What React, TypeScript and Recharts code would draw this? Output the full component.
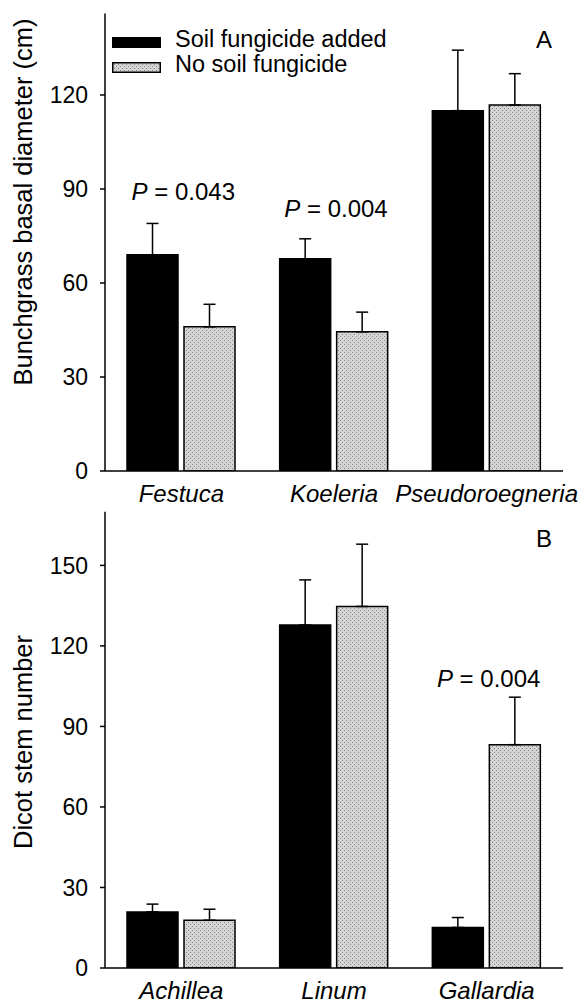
import React from "react";
import { BarChart, Bar, XAxis, YAxis, ErrorBar, Legend, ReferenceDot } from "recharts";

// Panel A – bunchgrasses
const grassNames = ["Festuca", "Koeleria", "Pseudoroegneria"];
const grassFung = [69, 67.7, 115];
const grassFungErr = [10, 6.4, 19.3];
const grassNoFung = [46, 44.4, 116.8];
const grassNoFungErr = [7.2, 6.3, 10];
const grassP = ["0.043", "0.004", null];
const grassPAt = [86.6, 81.2, null];
const grassTicks = [0, 30, 60, 90, 120];

// Panel B – dicots
const dicotNames = ["Achillea", "Linum", "Gallardia"];
const dicotFung = [20.9, 127.8, 15.1];
const dicotFungErr = [2.9, 16.8, 3.7];
const dicotNoFung = [17.8, 134.7, 83.2];
const dicotNoFungErr = [4.1, 23.2, 17.7];
const dicotP = [null, null, "0.004"];
const dicotPAt = [null, null, 104.6];
const dicotTicks = [0, 30, 60, 90, 120, 150];

const seriesOrder = ["fung", "noFung"];

const FONT = "'Liberation Sans', Arial, Helvetica, sans-serif";

interface Row {
  name: string;
  fung: number;
  fungErr: number;
  noFung: number;
  noFungErr: number;
  p: string | null;
  pAt: number | null;
}

const buildRows = (
  names: string[],
  fung: number[],
  fungErr: number[],
  noFung: number[],
  noFungErr: number[],
  p: (string | null)[],
  pAt: (number | null)[]
): Row[] =>
  names.map((name, i) => ({
    name,
    fung: fung[i],
    fungErr: fungErr[i],
    noFung: noFung[i],
    noFungErr: noFungErr[i],
    p: p[i],
    pAt: pAt[i],
  }));

const grassRows = buildRows(grassNames, grassFung, grassFungErr, grassNoFung, grassNoFungErr, grassP, grassPAt);
const dicotRows = buildRows(dicotNames, dicotFung, dicotFungErr, dicotNoFung, dicotNoFungErr, dicotP, dicotPAt);

const AxisTitle = ({ text, cy }: { text: string; cy: number }) => (
  <text
    x={32}
    y={cy}
    transform={`rotate(-90 32 ${cy})`}
    textAnchor="middle"
    fontSize={25.5}
    fill="#000"
    fontFamily={FONT}
  >
    {text}
  </text>
);

const LegendBox = (props: any) => {
  const payload = [...(props.payload || [])].sort(
    (a: any, b: any) => seriesOrder.indexOf(a.dataKey) - seriesOrder.indexOf(b.dataKey)
  );
  return (
    <div style={{ position: "relative", width: 300, height: 50, fontFamily: FONT, fontSize: 23.5, color: "#000" }}>
      {payload.map((e: any, i: number) => (
        <div
          key={e.value}
          style={{ position: "absolute", left: 0, top: i * 24.5, height: 25, display: "flex", alignItems: "center" }}
        >
          <svg width={49} height={11} style={{ display: "block" }}>
            <rect x={0.75} y={0.75} width={47.5} height={9.5} fill={e.color} stroke="#000" strokeWidth={1.5} />
          </svg>
          <span style={{ marginLeft: 14, lineHeight: "25px", position: "relative", top: -3, whiteSpace: "nowrap" }}>
            {e.value}
          </span>
        </div>
      ))}
    </div>
  );
};

const PText = (props: any) => {
  const { cx, cy, text } = props;
  return (
    <text x={cx + 2} y={cy} textAnchor="middle" fontSize={24} fill="#000" fontFamily={FONT}>
      <tspan fontStyle="italic">P</tspan>
      {" = " + text}
    </text>
  );
};

interface PanelProps {
  rows: Row[];
  ticks: number[];
  yMax: number;
  yLabel: string;
  yLabelCy: number;
  letter: string;
  letterY: number;
  height: number;
  marginTop: number;
  xAxisHeight: number;
  patternId: string;
  showLegend: boolean;
}

const Panel = ({
  rows,
  ticks,
  yMax,
  yLabel,
  yLabelCy,
  letter,
  letterY,
  height,
  marginTop,
  xAxisHeight,
  patternId,
  showLegend,
}: PanelProps) => (
  <BarChart
    width={588}
    height={height}
    data={rows}
    margin={{ top: marginTop, right: 25, left: 0, bottom: 0 }}
    barSize={51}
    barGap={6}
    style={{ fontFamily: FONT }}
  >
    <defs>
      <pattern id={patternId} width={4} height={4} patternUnits="userSpaceOnUse">
        <rect width={4} height={4} fill="#d4d4d4" />
        <rect x={0} y={0} width={1} height={1} fill="#888" />
        <rect x={2} y={2} width={1} height={1} fill="#888" />
      </pattern>
    </defs>
    <XAxis
      dataKey="name"
      height={xAxisHeight}
      tickLine={false}
      tickSize={0}
      tickMargin={14}
      axisLine={{ stroke: "#000", strokeWidth: 1.5 }}
      tick={{ fill: "#000", fontSize: 24, fontStyle: "italic", fontFamily: FONT }}
      interval={0}
    />
    <XAxis xAxisId="top" dataKey="name" orientation="top" height={0} tick={false} tickLine={false} axisLine={{ stroke: "#000", strokeWidth: 1.5 }} />
    <YAxis
      width={105}
      domain={[0, yMax]}
      ticks={ticks}
      tickSize={5}
      tickMargin={12}
      tickLine={{ stroke: "#000", strokeWidth: 1.5 }}
      axisLine={{ stroke: "#000", strokeWidth: 1.5 }}
      tick={{ fill: "#000", fontSize: 23, fontFamily: FONT }}
      allowDataOverflow
      label={<AxisTitle text={yLabel} cy={yLabelCy} />}
    />
    <YAxis yAxisId="right" orientation="right" width={0} domain={[0, yMax]} tick={false} tickLine={false} axisLine={{ stroke: "#000", strokeWidth: 1.5 }} />
    {showLegend && (
      <Legend
        layout="horizontal"
        verticalAlign="middle"
        align="center"
        content={<LegendBox />}
        wrapperStyle={{ left: 112, top: 30, width: 300, height: 50 }}
      />
    )}
    <Bar dataKey="fung" name="Soil fungicide added" fill="#000" stroke="#000" strokeWidth={1.5} isAnimationActive={false}>
      <ErrorBar dataKey={(d: Row) => [0, d.fungErr]} direction="y" width={6} stroke="#000" strokeWidth={1.5} />
    </Bar>
    <Bar dataKey="noFung" name="No soil fungicide" fill={`url(#${patternId})`} stroke="#000" strokeWidth={1.5} isAnimationActive={false}>
      <ErrorBar dataKey={(d: Row) => [0, d.noFungErr]} direction="y" width={6} stroke="#000" strokeWidth={1.5} />
    </Bar>
    {rows
      .filter((r) => r.p !== null && r.pAt !== null)
      .map((r) => (
        <ReferenceDot
          key={r.name}
          x={r.name}
          y={r.pAt as number}
          r={0}
          shape={(p: any) => <PText cx={p.cx} cy={p.cy} text={r.p} />}
        />
      ))}
    <text x={552} y={letterY} textAnchor="end" fontSize={24} fill="#000" fontFamily={FONT}>
      {letter}
    </text>
  </BarChart>
);

export default function App() {
  return (
    <div style={{ position: "absolute", left: 0, top: 0, width: 588, height: 1003, background: "#fff", fontFamily: FONT }}>
      <div style={{ position: "absolute", left: 0, top: 0 }}>
        <Panel
          rows={grassRows}
          ticks={grassTicks}
          yMax={146}
          yLabel="Bunchgrass basal diameter (cm)"
          yLabelCy={202}
          letter="A"
          letterY={48}
          height={510}
          marginTop={13.5}
          xAxisHeight={39}
          patternId="stippleA"
          showLegend
        />
      </div>
      <div style={{ position: "absolute", left: 0, top: 510 }}>
        <Panel
          rows={dicotRows}
          ticks={dicotTicks}
          yMax={170}
          yLabel="Dicot stem number"
          yLabelCy={232}
          letter="B"
          letterY={37}
          height={493}
          marginTop={1.7}
          xAxisHeight={35}
          patternId="stippleB"
          showLegend={false}
        />
      </div>
    </div>
  );
}
